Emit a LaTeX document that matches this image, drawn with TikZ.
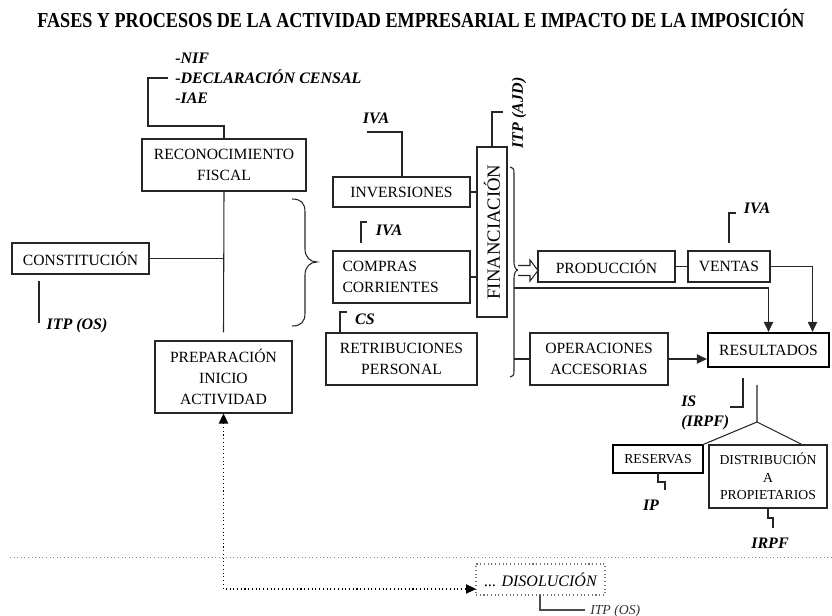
\documentclass[tikz,border=0pt]{standalone}
\usepackage{fontspec}
\setmainfont{Liberation Serif}
\usetikzlibrary{arrows.meta}
\newcommand\myBody{\fontsize{11.7}{15.5}\selectfont}
\newcommand\mySmallBody{\fontsize{10.3}{13}\selectfont}
\newcommand\myLab{\fontsize{12}{15}\selectfont\bfseries\itshape}
\begin{document}
\begin{tikzpicture}[x=0.75pt,y=-0.75pt,
  ln/.style={line width=0.8pt, draw=black!85},
  bx/.style={draw=black!85, line width=0.8pt, inner sep=0pt, align=center, font=\myBody},
  sbx/.style={bx, font=\mySmallBody},
  B/.style args={#1/#2/#3/#4}{minimum width={(#3-#1)*0.75pt}, minimum height={(#4-#2)*0.75pt},
     at={({(#1+#3)/2},{(#2+#4)/2})}},
  lab/.style={inner sep=0pt, font=\myLab},
  arr/.style={ln, -{Triangle[length=7.5pt,width=7pt]}},
]
\useasboundingbox (0,0) rectangle (832,616);

% title
\node[inner sep=0pt, xscale=0.85, font=\fontsize{16}{18}\selectfont\bfseries] (title) at (421,19)
  {FASES Y PROCESOS DE LA ACTIVIDAD EMPRESARIAL E IMPACTO DE LA IMPOSICIÓN};

% boxes
\node[bx, B=142/139/306/191] (rec) {RECONOCIMIENTO\\FISCAL};
\node[bx, B=12/243/149/274] (cons) {CONSTITUCIÓN};
\node[bx, B=155/341/292/413] (prep) {PREPARACIÓN\\INICIO\\ACTIVIDAD};
\node[bx, B=333/177/470/207] (inv) {INVERSIONES};
\node[bx, B=333/251/470/303, text width=88.5pt, align=left] (comp) {COMPRAS\\CORRIENTES};
\node[bx, B=326/333/477/385] (ret) {RETRIBUCIONES\\PERSONAL};
\node[bx, B=477/147/507/317] (fin) {};
\node[inner sep=0pt, rotate=90, font=\fontsize{14}{16}\selectfont] (fintext) at (fin.center) {FINANCIACIÓN};
\node[bx, B=538/251/675/282] (prod) {PRODUCCIÓN};
\node[bx, B=688/251/770/282] (ven) {VENTAS};
\node[bx, B=708/333/829/367, line width=1.7pt, draw=black] (res) {RESULTADOS};
\node[bx, B=530/333/668/385] (ope) {OPERACIONES\\ACCESORIAS};
\node[sbx, B=613/445/703/473, line width=1.2pt, draw=black] (resv) {RESERVAS};
\node[sbx, B=709/445/827/508] (dist) {DISTRIBUCIÓN\\A\\PROPIETARIOS};
\node[bx, B=476/564/605/595, draw=black!55, dotted, font=\fontsize{12}{14}\selectfont\itshape] (diso) {... DISOLUCIÓN};

% tax labels
\node[lab, anchor=west, align=left] (nif) at (175,78) {-NIF\\-DECLARACIÓN CENSAL\\-IAE};
\node[lab] (itpos) at (77,326) {ITP (OS)};
\node[lab] (iva1) at (376,118) {IVA};
\node[lab] (iva2) at (389,230) {IVA};
\node[lab] (cs) at (365,319) {CS};
\node[lab, rotate=90] (itpajd) at (519,113) {ITP (AJD)};
\node[lab] (iva3) at (757,208) {IVA};
\node[lab, anchor=west, align=left] (is) at (681,413) {IS\\(IRPF)};
\node[lab] (ip) at (651,505) {IP};
\node[lab] (irpf) at (770,543) {IRPF};
\node[inner sep=0pt, anchor=west, font=\fontsize{10.3}{12}\selectfont\itshape, text=black!80] (itpos2) at (590,611) {ITP (OS)};

% connectors left part
\draw[ln] (rec.north) |- (148,126) -- (148,78) -- (168,78);
\draw[ln] (rec.south) -- ([yshift=6pt]prep.north);
\draw[ln] (cons.east) -- (cons.east -| rec.south);
\coordinate (os1) at (39,281);
\draw[ln] (os1) -- (39,323);

% left brace
\draw[ln] (292,199) .. controls (301,199) and (305,203) .. (305,212) -- (305,249)
  .. controls (305,257) and (310,262) .. (317,262)
  .. controls (310,262) and (305,267) .. (305,275) -- (305,313)
  .. controls (305,322) and (301,326) .. (292,326);

% small tax brackets
\draw[ln] (402,177) -- (402,132) -- (367,132);
\draw[ln] (361,243) -- (361,222) -- (367,222);
\draw[ln] (340,333) -- (340,312) -- (347,312);
\draw[ln] (492,147) -- (492,112) -- (503,112);
\draw[ln] (729,243) -- (729,213) -- (736,213);

% to financiacion
\draw[ln] (inv.east) -- (inv.east -| fin.west);
\draw[ln] (comp.east) -- (comp.east -| fin.west);

% right brace
\draw[ln] (510,167) .. controls (513,167) and (514,169) .. (514,173) -- (514,262)
  .. controls (514,267) and (516,270) .. (518,270)
  .. controls (516,270) and (514,273) .. (514,278) -- (514,371)
  .. controls (514,375) and (513,377) .. (510,377);

% hollow arrow
\draw[ln, fill=white] (518,265.5) -- (530,265.5) -- (530,260) -- (538,270.5) -- (530,281) -- (530,275.5) -- (518,275.5);

\draw[ln] (prod.east) -- (ven.west);
\draw[arr] (ven.east) -| ([xshift=33pt]res.north);
\coordinate (b288) at (514,288);
\draw[arr] (b288) -| (res.north);
\coordinate (b359) at (514,359);
\draw[ln] (b359) -- (ope.west);
\draw[arr] (ope.east) -- (ope.east -| res.west);

% results split
\coordinate (rs) at (757,385);
\coordinate (apex) at (757,422);
\draw[ln] (rs) -- (apex) -- (702,445);
\draw[ln] (apex) -- (803,445);
\draw[ln] (743,378) -- (743,407) -- (730,407);
\draw[ln] (658,473) -- (658,482) -- (665,482) -- (665,490);
\draw[ln] (768,508) -- (768,518) -- (773,518) -- (773,528);

% separator and dissolution
\draw[black!50, dotted, line width=0.7pt] (10,557) -- (832,557);
\coordinate (dcorner) at (223.5,589);
\draw[line width=0.8pt, dotted, {Triangle[length=7.5pt,width=7pt]}-{Triangle[length=7.5pt,width=7pt]}]
  (prep.south) -- (dcorner) -- (476,589);
\draw[line width=0.8pt, draw=black!70] (540,595) -- (540,610) -- (585,610);
\end{tikzpicture}
\end{document}
